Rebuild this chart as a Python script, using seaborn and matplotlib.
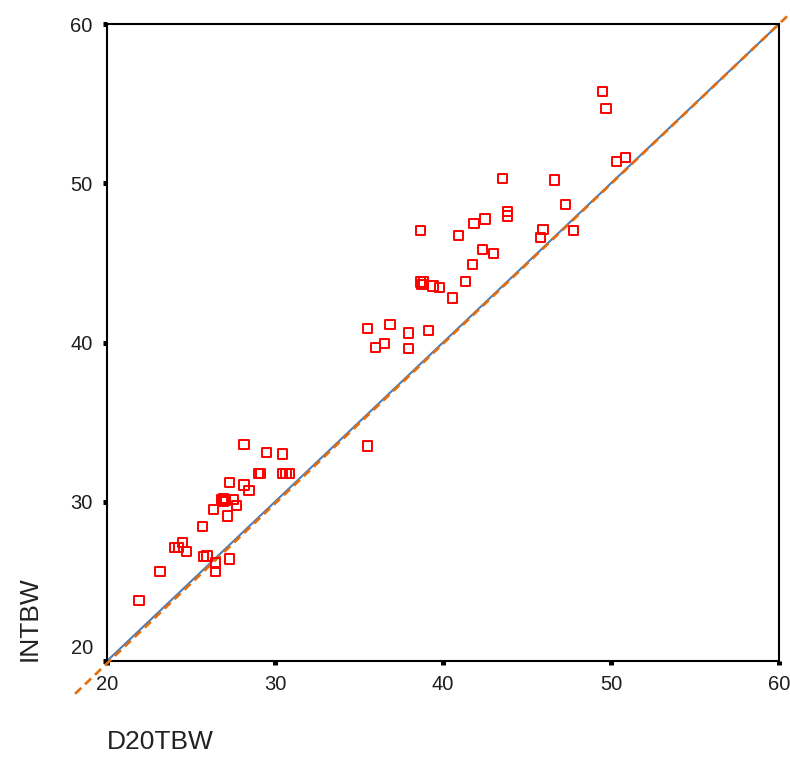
import matplotlib
matplotlib.use("Agg")
import matplotlib.pyplot as plt
import matplotlib.transforms as mtransforms
import numpy as np
import pandas as pd
import seaborn as sns

# ---- data ----
d20tbw = [21.9, 23.15, 24.0, 24.25, 24.5, 24.75, 25.7, 25.75, 25.95, 26.35,
          26.45, 26.45, 26.85, 26.95, 27.05, 26.9, 27.15, 27.3, 27.3, 27.55,
          27.7, 28.15, 28.15, 28.45, 29.0, 29.15, 29.5, 30.45, 30.45, 30.65,
          30.85,
          35.5, 35.5, 36.0, 36.5, 36.85, 37.95, 37.95, 39.15, 38.65, 38.65,
          38.85, 38.75, 39.4, 39.8, 40.55, 40.9, 41.35, 41.75, 41.85, 42.35,
          42.5, 43.0, 43.55, 43.85, 43.85, 45.8, 45.95, 46.65, 47.3, 47.75,
          49.5, 49.7, 50.35, 50.85]
intbw = [23.8, 25.6, 27.15, 27.15, 27.45, 26.9, 28.45, 26.55, 26.6, 29.5,
         26.15, 25.6, 30.15, 30.2, 30.1, 30.0, 29.1, 31.2, 26.4, 30.15,
         29.75, 33.6, 31.05, 30.7, 31.75, 31.75, 33.1, 33.0, 31.75, 31.75,
         31.75,
         33.5, 40.9, 39.7, 39.95, 41.15, 40.6, 39.6, 40.75, 47.05, 43.8,
         43.8, 43.65, 43.55, 43.45, 42.8, 46.7, 43.85, 44.9, 47.45, 45.85,
         47.75, 45.6, 50.3, 48.25, 47.95, 46.6, 47.1, 50.2, 48.65, 47.05,
         55.75, 54.7, 51.35, 51.6]

identity_x = [20, 60]
fit_x = [18.1, 60.65]
fit_intercept = -0.225
fit_slope = 1.00375

ticks = [20, 30, 40, 50, 60]
tick_labels = ["20", "30", "40", "50", "60"]

df = pd.DataFrame({"D20TBW": d20tbw, "INTBW": intbw})
line_id = pd.DataFrame({"x": identity_x, "y": identity_x})
fx = np.array(fit_x)
line_fit = pd.DataFrame({"x": fx, "y": fit_intercept + fit_slope * fx})

# ---- style ----
sns.set_style("ticks")
plt.rcParams["font.family"] = ["Liberation Sans", "DejaVu Sans"]

fig = plt.figure(figsize=(7.9, 7.64), dpi=100)
ax = fig.add_axes([107 / 790, 1 - 661 / 764, 672 / 790, 637 / 764])

sns.lineplot(data=line_id, x="x", y="y", ax=ax, color="#4a7ebb",
             linewidth=1.5, zorder=2)
sns.lineplot(data=line_fit, x="x", y="y", ax=ax, color="#e46c0a",
             linewidth=1.9, linestyle=(0, (3.2, 2.0)), zorder=3)
for ln in ax.lines[-1:]:
    ln.set_clip_on(False)

sns.scatterplot(data=df, x="D20TBW", y="INTBW", ax=ax, marker="s", s=44,
                color="red", facecolor="none", edgecolor="#ff0000",
                linewidth=1.4, zorder=4)

ax.set_xlim(20, 60)
ax.set_ylim(20, 60)
ax.set_xticks(ticks)
ax.set_xticklabels(tick_labels)
ax.set_yticks(ticks)
ax.set_yticklabels(tick_labels)

for sp in ax.spines.values():
    sp.set_visible(True)
    sp.set_linewidth(1.5)
    sp.set_color("black")

ax.tick_params(axis="both", direction="out", length=3.2, width=3.6,
               color="black", labelsize=14.5, labelcolor="#1e1e1e")
ax.tick_params(axis="x", pad=7)
ax.tick_params(axis="y", pad=7)

# lowest y tick label sits a bit higher in the reference
lab = ax.get_yticklabels()[0]
lab.set_transform(lab.get_transform() +
                  mtransforms.ScaledTranslation(0, 14 / 100, fig.dpi_scale_trans))

ax.set_xlabel("D20TBW", fontsize=19, color="#222222", loc="left")
ax.set_ylabel("INTBW", fontsize=19, color="#222222", loc="bottom")
ax.xaxis.set_label_coords(0.0, -0.108)
ax.yaxis.set_label_coords(-0.098, 0.0)

fig.savefig("out.png", dpi=100, facecolor="white")
